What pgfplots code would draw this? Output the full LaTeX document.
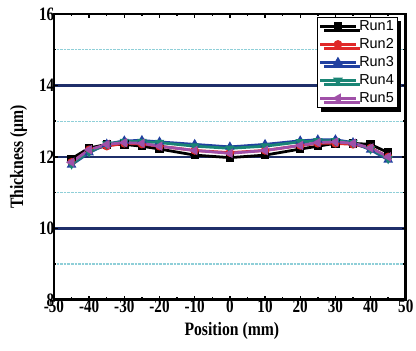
\documentclass[border=0pt]{standalone}
\usepackage{pgfplots}
\pgfplotsset{compat=1.18}
\usepackage{fontspec}
\setmainfont{Liberation Serif}
\newfontfamily\legfont{Liberation Sans}
\usetikzlibrary{shadows}
\definecolor{rred}{HTML}{E02828}
\definecolor{rblue}{HTML}{2040A0}
\definecolor{rteal}{HTML}{1A8575}
\definecolor{rpurp}{HTML}{A050A8}
\definecolor{gnavy}{HTML}{1F2F6A}
\definecolor{gcyan}{HTML}{8FCFD8}
\begin{document}
\begin{tikzpicture}
\begin{axis}[
  scale only axis, width=352bp, height=286bp,
  xmin=-50, xmax=50, ymin=8, ymax=16,
  xtick={-50,-40,...,50}, ytick={8,10,...,16},
  minor xtick={-45,-35,...,45},
  minor ytick={9,11,13,15},
  tick align=inside, major tick length=4pt, minor tick length=2.5pt,
  tick style={black, line width=1.4pt},
  axis line style={black, line width=2.8pt},
  ymajorgrids, yminorgrids,
  major grid style={gnavy, line width=2.4pt},
  minor grid style={gcyan, densely dotted, line width=1.2pt},
  xticklabel={\textbf{\pgfmathprintnumber[assume math mode=true]{\tick}}},
  yticklabel={\textbf{\pgfmathprintnumber[assume math mode=true]{\tick}}},
  tick label style={font=\fontsize{19}{19}\selectfont},
  xticklabel style={yshift=3pt, xscale=0.8},
  yticklabel style={xshift=3pt, xscale=0.8},
  xlabel={\textbf{Position (mm)}},
  ylabel={\textbf{Thickness (µm)}},
  every axis x label/.style={at={([xshift=2bp,yshift=-31bp]rel axis cs:0.5,0)}, anchor=center, xscale=0.83, font=\fontsize{19}{19}\selectfont},
  every axis y label/.style={at={([xshift=-35.5bp]rel axis cs:0,0.5)}, anchor=center, rotate=90, xscale=0.83, font=\fontsize{19}{19}\selectfont},
  legend style={at={(0.977,0.99)}, anchor=north east, draw=black, line width=0.8pt,
    font=\legfont\fontsize{14.5}{14.5}\selectfont, inner sep=1.5pt, row sep=2.5pt,
    drop shadow={shadow xshift=4pt, shadow yshift=-4pt, fill=black, opacity=1}},
  legend cell align=left,
  legend image code/.code={
    \draw[line width=3pt, mark repeat=2, mark phase=2] plot coordinates {(0cm,0cm) (0.63cm,0cm) (1.26cm,0cm)};},
  every axis plot/.append style={line width=2.8pt, mark size=2.8pt},
]
\addplot[black, mark=square*] coordinates {(-45,11.95)(-40,12.25)(-35,12.35)(-30,12.35)(-25,12.3)(-20,12.22)(-10,12.05)(0,11.98)(10,12.05)(20,12.22)(25,12.3)(30,12.38)(35,12.38)(40,12.35)(45,12.12)};
\addplot[rred, mark=*] coordinates {(-45,11.85)(-40,12.2)(-35,12.3)(-30,12.38)(-25,12.36)(-20,12.3)(-10,12.18)(0,12.12)(10,12.18)(20,12.32)(25,12.38)(30,12.38)(35,12.35)(40,12.25)(45,12.0)};
\addplot[rblue, mark=triangle*] coordinates {(-45,11.78)(-40,12.12)(-35,12.36)(-30,12.45)(-25,12.46)(-20,12.42)(-10,12.35)(0,12.28)(10,12.35)(20,12.45)(25,12.48)(30,12.48)(35,12.4)(40,12.2)(45,11.92)};
\addplot[rteal, mark=triangle*, mark options={rotate=180}] coordinates {(-45,11.8)(-40,12.14)(-35,12.36)(-30,12.43)(-25,12.43)(-20,12.4)(-10,12.3)(0,12.24)(10,12.3)(20,12.42)(25,12.45)(30,12.45)(35,12.4)(40,12.22)(45,11.95)};
\addplot[rpurp, mark=triangle*, mark options={rotate=90}] coordinates {(-45,11.85)(-40,12.2)(-35,12.35)(-30,12.4)(-25,12.38)(-20,12.3)(-10,12.18)(0,12.1)(10,12.18)(20,12.32)(25,12.4)(30,12.42)(35,12.38)(40,12.25)(45,12.0)};
\legend{Run1,Run2,Run3,Run4,Run5}
\end{axis}
\path ([xshift=-54bp,yshift=14bp]current axis.north west) rectangle ([xshift=10bp,yshift=-51bp]current axis.south east);
\end{tikzpicture}
\end{document}
